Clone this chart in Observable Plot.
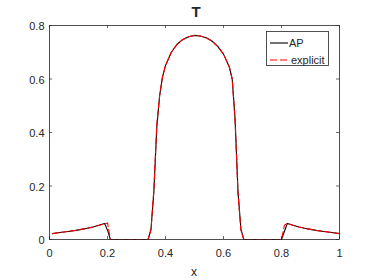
<!DOCTYPE html>
<html><head><meta charset="utf-8">
<script src="https://cdn.jsdelivr.net/npm/d3@7"></script>
<script src="https://cdn.jsdelivr.net/npm/@observablehq/plot@0.6"></script>
<style>
html,body{margin:0;padding:0;background:#fff;}
#wrap{position:relative;width:374px;height:280px;overflow:hidden;font-family:"Liberation Sans",Arial,Helvetica,sans-serif;color:#262626;}
#title{position:absolute;left:146px;width:100px;top:3px;text-align:center;font-weight:bold;font-size:15px;line-height:18px;}
#xlabel{position:absolute;left:144px;width:100px;top:265px;text-align:center;font-size:12px;line-height:14px;}
#legend{position:absolute;left:266px;top:31px;}
</style>
</head><body>
<div id="wrap">
  <div id="chart"></div>
  <div id="title">T</div>
  <div id="xlabel">x</div>
  <svg id="legend" width="64" height="36"></svg>
</div>
<script>
// ---- data ----
const seriesNames = ["AP", "explicit"];
const apX = [0.01,0.03,0.05,0.07,0.09,0.11,0.13,0.15,0.17,0.19,0.20,0.21,0.34,0.35,0.36,0.37,0.38,0.39,0.40,0.42,0.44,0.46,0.48,0.50,0.52,0.54,0.56,0.58,0.60,0.62,0.63,0.64,0.65,0.66,0.67,0.80,0.81,0.82,0.84,0.86,0.88,0.90,0.92,0.94,0.96,0.98,1.00];
const apY = [0.022,0.025,0.028,0.031,0.034,0.038,0.042,0.047,0.053,0.060,0.035,0.000,0.000,0.040,0.180,0.420,0.540,0.610,0.650,0.700,0.730,0.748,0.758,0.763,0.761,0.754,0.742,0.722,0.693,0.645,0.600,0.450,0.180,0.040,0.000,0.000,0.030,0.060,0.053,0.047,0.042,0.038,0.034,0.031,0.028,0.025,0.022];
const exX = [0.01,0.03,0.05,0.07,0.09,0.11,0.13,0.15,0.17,0.19,0.20,0.21,0.34,0.35,0.36,0.37,0.38,0.39,0.40,0.42,0.44,0.46,0.48,0.50,0.52,0.54,0.56,0.58,0.60,0.62,0.63,0.64,0.65,0.66,0.67,0.80,0.81,0.82,0.84,0.86,0.88,0.90,0.92,0.94,0.96,0.98,1.00];
const exY = [0.022,0.025,0.028,0.031,0.034,0.038,0.042,0.047,0.053,0.058,0.062,0.000,0.000,0.035,0.190,0.430,0.540,0.610,0.650,0.700,0.730,0.748,0.758,0.763,0.761,0.754,0.742,0.722,0.693,0.645,0.600,0.440,0.170,0.035,0.000,0.000,0.053,0.060,0.053,0.047,0.042,0.038,0.034,0.031,0.028,0.025,0.022];
const xTicks = [0,0.2,0.4,0.6,0.8,1];
const xTickLabels = ["0","0.2","0.4","0.6","0.8","1"];
const yTicks = [0,0.2,0.4,0.6,0.8];
const yTickLabels = ["0","0.2","0.4","0.6","0.8"];
const colors = ["#000000","#ff0000"];

const apData = apX.map((x,i)=>({x, y: apY[i]}));
const exData = exX.map((x,i)=>({x, y: exY[i]}));

const W=374, H=280, mL=49, mR=35, mT=25, mB=41;
const iw = W-mL-mR, ih = H-mT-mB, tk = 3;
const axisColor = "#262626";

const chart = Plot.plot({
  width: W, height: H,
  marginLeft: mL, marginRight: mR, marginTop: mT, marginBottom: mB,
  x: {domain: [0,1]},
  y: {domain: [0,0.8]},
  style: {fontFamily: '"Liberation Sans",Arial,Helvetica,sans-serif', fontSize: "11px", color: axisColor, background: "white", overflow: "visible"},
  marks: [
    Plot.axisX(xTicks, {tickSize: 0, tickPadding: 9.5, label: null, tickFormat: d => xTickLabels[xTicks.indexOf(d)], fill: axisColor}),
    Plot.axisY(yTicks, {tickSize: 0, tickPadding: 5, label: null, dy: 1, tickFormat: d => yTickLabels[yTicks.indexOf(d)], fill: axisColor}),
    Plot.tickX(xTicks, {x: d => d, insetTop: ih - tk, stroke: axisColor, strokeWidth: 0.7}),
    Plot.tickX(xTicks, {x: d => d, insetBottom: ih - tk, stroke: axisColor, strokeWidth: 0.7}),
    Plot.tickY(yTicks, {y: d => d, insetRight: iw - tk, stroke: axisColor, strokeWidth: 0.7}),
    Plot.tickY(yTicks, {y: d => d, insetLeft: iw - tk, stroke: axisColor, strokeWidth: 0.7}),
    Plot.line(apData, {x: "x", y: "y", stroke: colors[0], strokeWidth: 1.1}),
    Plot.line(exData, {x: "x", y: "y", stroke: colors[1], strokeWidth: 1.1, strokeDasharray: "6,3"}),
    Plot.frame({stroke: axisColor, strokeWidth: 0.8})
  ]
});
document.getElementById("chart").appendChild(chart);

// legend
const lg = d3.select("#legend");
lg.append("rect").attr("x",0.5).attr("y",0.5).attr("width",62).attr("height",34)
  .attr("fill","white").attr("stroke",axisColor).attr("stroke-width",0.8);
seriesNames.forEach((name,i)=>{
  const yy = 12 + i*17;
  lg.append("line").attr("x1",4).attr("x2",22).attr("y1",yy).attr("y2",yy)
    .attr("stroke",colors[i]).attr("stroke-width",1.1)
    .attr("stroke-dasharray", i===1 ? "7,3" : null);
  lg.append("text").attr("x", i===0 ? 23 : 25).attr("y",yy).attr("dy","0.35em")
    .attr("font-size","11px").attr("fill",axisColor)
    .attr("font-family",'"Liberation Sans",Arial,Helvetica,sans-serif').text(name);
});
</script>
</body></html>
